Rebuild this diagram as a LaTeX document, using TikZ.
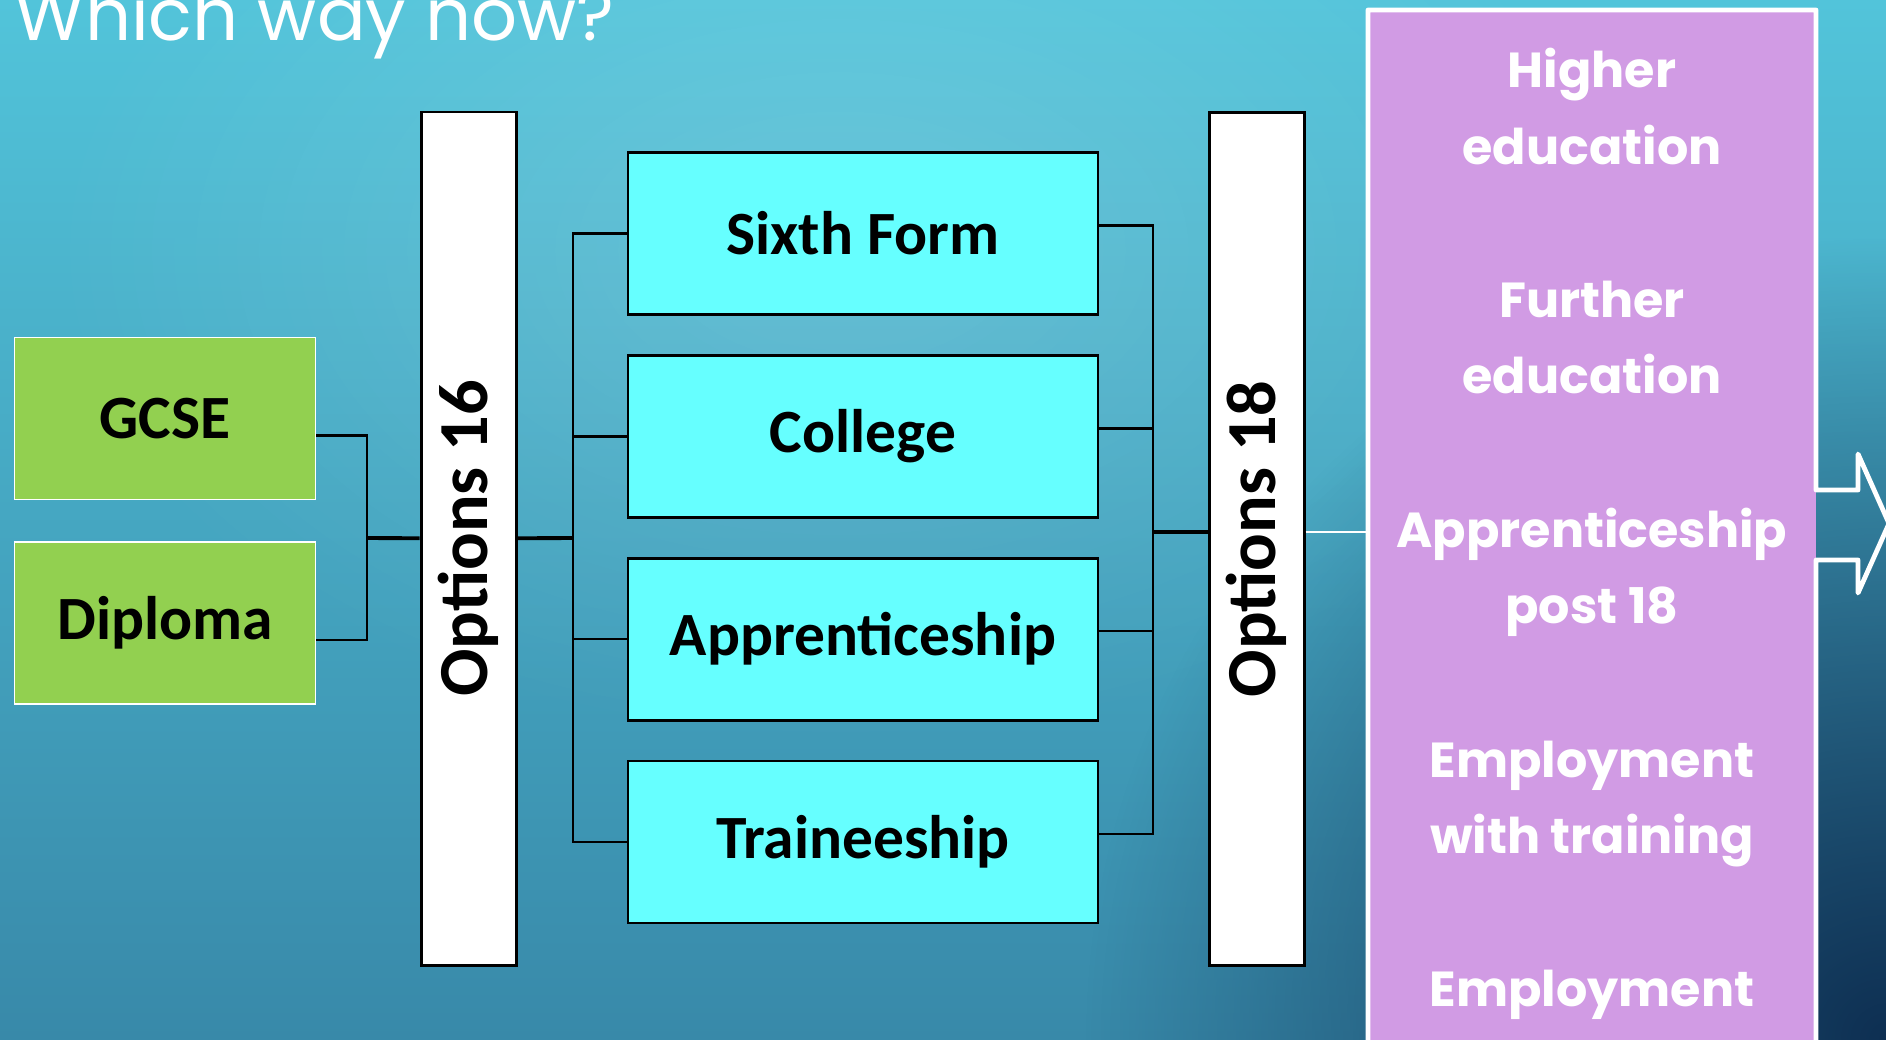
\documentclass[tikz,border=0pt]{standalone}
\usepackage{fontspec}
\usepackage{tikz}
\usetikzlibrary{fadings}
\usetikzlibrary{positioning}
\newfontfamily\boxfont{Carlito}
\newfontfamily\destfont{Poppins}
\definecolor{bgtop}{HTML}{52C4DA}
\definecolor{bgbottom}{HTML}{3889A9}
\definecolor{bgdark}{HTML}{0E2F52}
\definecolor{qualgreen}{HTML}{92D050}
\definecolor{routecyan}{HTML}{66FFFF}
\definecolor{destpurple}{HTML}{D19BE4}
\tikzfading[name=glowfade, inner color=transparent!0, outer color=transparent!100]
\tikzset{
  qualbox/.style = {
    draw = white, line width = .45pt, fill = qualgreen,
    minimum width = 3.01cm, minimum height = 1.62cm,
    font = \boxfont\bfseries\fontsize{17.5}{21}\selectfont,
  },
  routebox/.style = {
    draw = black, line width = .8pt, fill = routecyan,
    minimum width = 4.7cm, minimum height = 1.62cm,
    font = \boxfont\bfseries\fontsize{17.5}{21}\selectfont,
  },
  optbox/.style = {
    draw = black, line width = .85pt, fill = white,
    minimum width = .95cm, minimum height = 8.53cm, inner sep = 0,
    font = \boxfont\bfseries\fontsize{20}{24}\selectfont,
  },
  destbox/.style = {
    fill = destpurple, outer sep = 0, inner sep = 0,
    minimum width = 4.48cm, minimum height = 10.48cm,
    text = white, align = center,
    font = \destfont\bfseries\fontsize{14}{21.8}\selectfont,
  },
  link/.style = {line width = .7pt},
  mainlink/.style = {line width = 1.1pt},
}

\begin{document}
\begin{tikzpicture}[node distance = .38cm]
  % background
  \useasboundingbox (0,0) rectangle (18.86,-10.39);
  \shade[top color = bgtop, bottom color = bgbottom] (0,0) rectangle (18.86,-10.39);
  \begin{scope}
    \clip (0,0) rectangle (18.86,-10.39);
    \fill[white, opacity = .15, path fading = glowfade]
      (8.4,-2.5) ellipse [x radius = 8cm, y radius = 5cm];
    \fill[bgdark, path fading = glowfade] (18.86,-10.39) circle [radius = 8cm];
  \end{scope}

  \node[anchor = base west, inner sep = 0, text = white,
        font = \destfont\fontsize{20.5}{24}\selectfont]
    (title) at (.14,-.4) {Which way now?};

  \node[qualbox] (gcse) at (1.65,-4.185) {GCSE};
  \node[qualbox, below = .41cm of gcse] (diploma) {Diploma};

  \node[optbox] (opt16) at (4.685,-5.385) {\rotatebox{90}{Options 16}};

  \node[routebox] (sixth) at (8.63,-2.335) {Sixth Form};
  \node[routebox, below = of sixth] (college) {College};
  \node[routebox, below = of college] (appr) {Apprenticeship};
  \node[routebox, below = of appr] (trainee) {Traineeship};

  \node[optbox] (opt18) at (12.565,-5.39) {\rotatebox{90}{Options 18}};

  \node[destbox] (dest) at (15.92,-5.34) {Higher\\education\\[21.8pt]
    Further\\education\\[21.8pt]
    Apprenticeship\\post 18\\[21.8pt]
    Employment\\with training\\[21.8pt]
    Employment};
  % outline with the arrow on its right side
  \draw[white, line width = 1.36pt, line join = round]
    (dest.north west) -- (dest.north east) -- ([yshift = .44cm]dest.east)
      -- ++(.42,0) -- ++(0,.36) -- ++(.31,-.695) -- ++(-.31,-.695)
      -- ++(0,.33) -- ++(-.42,0) -- (dest.south east) -- (dest.south west) -- cycle;

  \coordinate (join16) at (3.67,-5.38);
  \coordinate (split16) at (5.73,-5.38);
  \coordinate (join18) at (11.53,-5.32);

  \draw[link] ([yshift = -.17cm]gcse.east) -| (join16) |- ([yshift = -.17cm]diploma.east);
  \draw[mainlink] (join16) -- (opt16);
  \draw[mainlink] (opt16) -- (split16);
  \foreach \route in {sixth, college, appr, trainee}
  {
    \draw[link] (\route.west) -| (split16);
    \draw[link] ([yshift = .08cm]\route.east) -| (join18);
  }
  \draw[mainlink] (join18) -- (join18 -| opt18.west);
  \draw[white, line width = .45pt] (join18 -| opt18.east) -- (join18 -| dest.west);
\end{tikzpicture}
\end{document}
